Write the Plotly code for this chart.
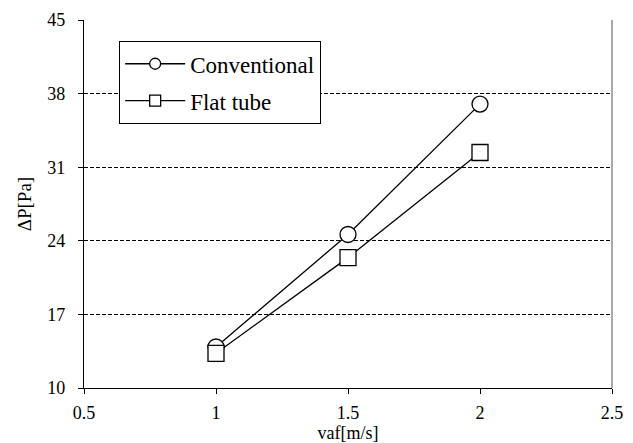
import plotly.graph_objects as go

velocity = [1.0, 1.5, 2.0]
conventional = [13.9, 24.6, 37.0]
flat_tube = [13.3, 22.4, 32.4]
series_names = ["Conventional", "Flat tube"]
symbols = ["circle", "square"]
y_ticks = [10, 17, 24, 31, 38, 45]
x_ticks = [0.5, 1, 1.5, 2, 2.5]

FONT = "Liberation Serif"

fig = go.Figure()
for name, ys, sym, grp in zip(series_names, [conventional, flat_tube], symbols, ["a", "b"]):
    fig.add_trace(go.Scatter(
        x=velocity, y=ys, name=name, mode="lines+markers", showlegend=False,
        line=dict(color="black", width=1.3),
        marker=dict(symbol=sym, size=16, color="white", line=dict(color="black", width=1.3)),
        legendgroup=grp))
    # legend proxy (no data) so the legend symbol is smaller than plot markers
    fig.add_trace(go.Scatter(
        x=[None], y=[None], name=name, mode="lines+markers", showlegend=True,
        line=dict(color="black", width=1.3),
        marker=dict(symbol=sym, size=11, color="white", line=dict(color="black", width=1.3)),
        legendgroup=grp))

axis_common = dict(zeroline=False, showline=True, linecolor="black", linewidth=1.3,
                   tickcolor="black", tickwidth=1.3, ticklen=5, automargin=False)

fig.update_layout(
    width=633, height=443,
    margin=dict(l=84, r=21, t=20, b=55),
    paper_bgcolor="white", plot_bgcolor="white",
    font=dict(family=FONT, size=18, color="black"),
    showlegend=True,
    legend=dict(x=0.066, y=0.943, xanchor="left", yanchor="top",
                bordercolor="black", borderwidth=1.3, bgcolor="white",
                font=dict(family=FONT, size=23),
                tracegroupgap=4, itemwidth=60),
    xaxis=dict(range=[0.5, 2.5], tickvals=x_ticks, ticktext=[str(v) for v in x_ticks],
               showgrid=False, ticks="outside", ticklabelstandoff=3,
               title=dict(text="vaf[m/s]", standoff=2, font=dict(size=18)), **axis_common),
    yaxis=dict(range=[10, 45], tickvals=y_ticks,
               showgrid=True, gridcolor="black", griddash="4px,2px", gridwidth=1,
               ticks="outside", ticklabelstandoff=9,
               title=dict(text="ΔP[Pa]", standoff=10, font=dict(size=19)), **axis_common),
    xaxis2=dict(range=[0.5, 2.5], tickvals=x_ticks, overlaying="x", side="bottom",
                showgrid=False, ticks="inside", showticklabels=False, **axis_common),
    yaxis2=dict(range=[10, 45], tickvals=y_ticks, overlaying="y", side="left",
                showgrid=False, ticks="inside", showticklabels=False, **axis_common),
)
fig.add_shape(type="line", xref="paper", yref="paper", x0=1, x1=1, y0=0, y1=1,
              line=dict(color="#8c8c8c", width=1.5))

fig.write_html("out.html", config={"displayModeBar": False},
               post_script="document.body.style.margin='0';document.body.style.padding='0';")
